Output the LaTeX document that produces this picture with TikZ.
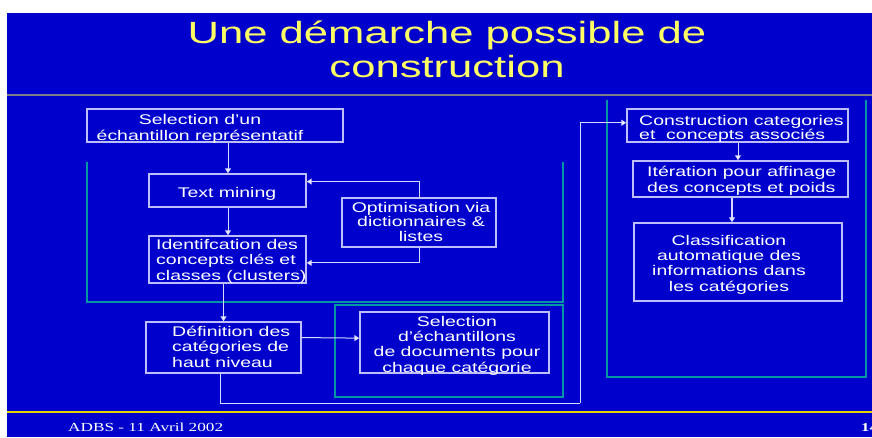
\documentclass[tikz,border=0pt]{standalone}
\usepackage{fontspec}
\setmainfont{Liberation Sans}
\newfontfamily\titlefont[FakeStretch=1.42]{Liberation Sans}
\newfontfamily\boxfont[FakeStretch=1.39]{Liberation Sans}
\newfontfamily\footfont[FakeStretch=1.4]{Liberation Serif}
\usetikzlibrary{arrows.meta,calc}

\definecolor{slideblue}{RGB}{0,0,204}
\definecolor{titleyellow}{RGB}{255,255,100}
\definecolor{boxcol}{RGB}{190,190,255}
\definecolor{framecol}{RGB}{0,150,165}
\definecolor{linecol}{RGB}{215,215,255}
\definecolor{rulegray}{RGB}{125,125,135}
\definecolor{footyellow}{RGB}{225,215,0}

\begin{document}
\begin{tikzpicture}[x=1pt,y=-1pt,
  stepbox/.style={draw=boxcol, line width=1.4pt, rectangle, inner sep=0pt},
  boxtext/.style={text=white, inner sep=0pt, font=\boxfont\fontsize{14}{15.3}\selectfont},
  frame/.style={draw=framecol, line width=1.2pt},
  flow/.style={draw=linecol, line width=1pt, -{Triangle[length=5pt,width=6pt,fill=white]}},
  route/.style={draw=linecol, line width=1pt}]

% page and slide background
\useasboundingbox (0,0) rectangle (872,437);
\fill[white] (0,0) rectangle (872,437);
\fill[slideblue] (7,13) rectangle (872,437);

% title and rules (base anchor = baseline of the last line)
\node[anchor=base, align=center, text=titleyellow, inner sep=0pt,
      font=\titlefont\fontsize{30.7}{34}\selectfont] (title) at (447,77)
  {Une démarche possible de\\construction};
\draw[rulegray, line width=2pt] (7,95) -- (872,95);
\draw[footyellow, line width=1.3pt] (7,412) -- (872,412);

% footer
\node[anchor=base west, text=white, inner sep=0pt,
      font=\footfont\fontsize{12.3}{14}\selectfont] (date) at (68,431) {ADBS - 11 Avril 2002};
\node[anchor=base west, text=white, inner sep=0pt,
      font=\footfont\bfseries\fontsize{12}{14}\selectfont] (page) at (861,431) {14};

% grouping frames
\draw[frame] (87,162) -- (87,302) -- (563,302) -- (563,162);
\draw[frame] (335,305) rectangle (563,397);
\draw[frame] (607,100) -- (607,377) -- (866,377) -- (866,100);

% boxes
\node[stepbox, minimum width=256pt, minimum height=33pt] (sel)  at (215,125.5) {};
\node[stepbox, minimum width=157pt, minimum height=33pt] (tm)   at (227.5,190.5) {};
\node[stepbox, minimum width=157pt, minimum height=47pt] (id)   at (227.5,259.5) {};
\node[stepbox, minimum width=154pt, minimum height=49pt] (opt)  at (419,222.5) {};
\node[stepbox, minimum width=155pt, minimum height=51pt] (def)  at (223.5,347.5) {};
\node[stepbox, minimum width=189pt, minimum height=61pt] (selE) at (454.5,342.5) {};
\node[stepbox, minimum width=221pt, minimum height=33pt] (cons) at (737.5,125.5) {};
\node[stepbox, minimum width=215pt, minimum height=36pt] (iter) at (740.5,179) {};
\node[stepbox, minimum width=208pt, minimum height=78pt] (cls)  at (738,262) {};

% box texts
\node[boxtext, anchor=base, align=center] (selT) at (200,140)
  {Selection d’un\\échantillon représentatif};
\node[boxtext, anchor=base] (tmT) at (227,197) {Text mining};
\node[boxtext, anchor=base west, align=left] (idT) at (156,280)
  {Identifcation des\\concepts clés et\\classes (clusters)};
\node[boxtext, anchor=base, align=center, font=\boxfont\fontsize{14}{14.5}\selectfont] (optT) at (421,241)
  {Optimisation via\\dictionnaires \&\\listes};
\node[boxtext, anchor=base west, align=left] (defT) at (172,367)
  {Définition des\\catégories de\\haut niveau};
\node[boxtext, anchor=base, align=center] (selET) at (457,372)
  {Selection\\d’échantillons\\de documents pour\\chaque catégorie};
\node[boxtext, anchor=base west, align=left, font=\boxfont\fontsize{14}{14}\selectfont] (consT) at (639,139)
  {Construction categories\\et\ \ concepts associés};
\node[boxtext, anchor=base west, align=left] (iterT) at (647,192)
  {Itération pour affinage\\des concepts et poids};
\node[boxtext, anchor=base, align=center] (clsT) at (729,291)
  {Classification\\automatique des\\informations dans\\les catégories};

% connectors
\coordinate (loopA) at (580,403);
\draw[flow] (sel.south -| 228,0) -- (tm.north -| 228,0);
\draw[flow] (tm.south -| 228,0) -- (id.north -| 228,0);
\draw[flow] (opt.north) |- ($(tm.north east)!0.24!(tm.south east)$);
\draw[flow] (opt.south) |- ($(id.north east)!0.57!(id.south east)$);
\draw[flow] (id.south -| def.north) -- (def.north);
\draw[flow] ($(def.north east)!0.31!(def.south east)$) -- ($(selE.north west)!0.43!(selE.south west)$);
\draw[route] (def.south -| 220,0) |- (loopA);
\draw[flow] (loopA) |- ($(cons.north west)!0.42!(cons.south west)$);
\draw[flow] (cons.south -| 738,0) -- (iter.north -| 738,0);
\draw[flow, line width=1.8pt] (iter.south -| 732,0) -- (cls.north -| 732,0);
\end{tikzpicture}
\end{document}
